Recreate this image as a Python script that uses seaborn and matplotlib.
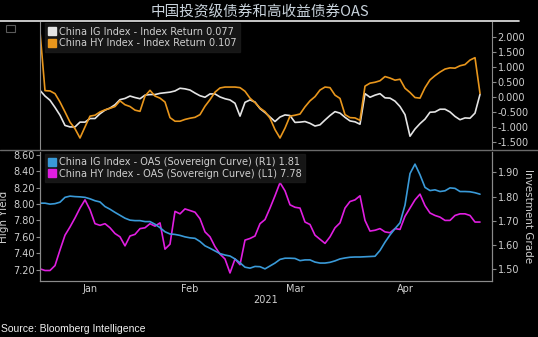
import numpy as np
import pandas as pd
import matplotlib
matplotlib.use("Agg")
import matplotlib.pyplot as plt
import seaborn as sns
from matplotlib.ticker import FormatStrFormatter, FixedLocator
from matplotlib.lines import Line2D
from matplotlib.patches import Rectangle

# ---------------- data ----------------
title = "中国投资级债券和高收益债券OAS"
source = "Source: Bloomberg Intelligence"
months = ["Jan", "Feb", "Mar", "Apr"]
trading_days_per_month = [20, 20, 22, 22]
year_label = "2021"

ig_return = [0.21, 0.02, -0.12, -0.36, -0.62, -0.96, -1.01, -1.01, -0.85, -0.85,
             -0.73, -0.73, -0.57, -0.45, -0.38, -0.27, -0.10, -0.06, 0.02, -0.03,
             -0.07, 0.05, 0.07, 0.07, 0.11, 0.13, 0.15, 0.19, 0.28, 0.26,
             0.22, 0.12, 0.03, -0.02, 0.09, 0.09, -0.01, -0.07, -0.11, -0.22,
             -0.65, -0.19, -0.11, -0.18, -0.40, -0.53, -0.68, -0.83, -0.68, -0.61,
             -0.63, -0.86, -0.85, -0.83, -0.89, -0.98, -0.94, -0.78, -0.63, -0.50,
             -0.55, -0.69, -0.81, -0.84, -0.92, 0.10, -0.02, 0.05, 0.10, -0.04,
             -0.05, -0.15, -0.33, -0.60, -1.32, -1.08, -0.90, -0.75, -0.52, -0.51,
             -0.42, -0.42, -0.51, -0.66, -0.77, -0.71, -0.72, -0.55, 0.077]

hy_return = [2.17, 0.20, 0.19, 0.10, -0.18, -0.51, -0.85, -1.07, -1.38, -1.01,
             -0.65, -0.62, -0.51, -0.44, -0.39, -0.33, -0.14, -0.27, -0.33, -0.45,
             -0.49, 0.02, 0.21, 0.02, -0.05, -0.18, -0.70, -0.82, -0.82, -0.76,
             -0.72, -0.69, -0.60, -0.32, -0.10, 0.15, 0.29, 0.32, 0.32, 0.32,
             0.30, 0.18, -0.05, -0.20, -0.38, -0.50, -0.72, -1.10, -1.38, -1.05,
             -0.65, -0.62, -0.58, -0.34, -0.14, 0.00, 0.22, 0.32, 0.30, 0.05,
             -0.06, -0.60, -0.70, -0.71, -0.79, 0.35, 0.45, 0.48, 0.53, 0.67,
             0.62, 0.55, 0.58, 0.28, 0.14, -0.03, -0.05, 0.30, 0.56, 0.70,
             0.82, 0.92, 0.96, 0.95, 1.03, 1.07, 1.22, 1.30, 0.107]

ig_oas = [1.773, 1.773, 1.769, 1.771, 1.777, 1.797, 1.802, 1.800, 1.799, 1.797,
          1.791, 1.783, 1.778, 1.759, 1.748, 1.735, 1.723, 1.711, 1.703, 1.701,
          1.701, 1.697, 1.697, 1.686, 1.672, 1.655, 1.646, 1.644, 1.640, 1.634,
          1.630, 1.628, 1.615, 1.597, 1.587, 1.576, 1.565, 1.559, 1.555, 1.543,
          1.527, 1.509, 1.505, 1.512, 1.511, 1.502, 1.514, 1.526, 1.541, 1.546,
          1.546, 1.545, 1.536, 1.539, 1.539, 1.530, 1.526, 1.526, 1.529, 1.535,
          1.543, 1.547, 1.550, 1.551, 1.551, 1.552, 1.553, 1.554, 1.578, 1.612,
          1.642, 1.668, 1.692, 1.765, 1.895, 1.934, 1.890, 1.838, 1.825, 1.828,
          1.821, 1.824, 1.836, 1.834, 1.821, 1.821, 1.820, 1.816, 1.81]

hy_oas = [7.21, 7.19, 7.19, 7.25, 7.44, 7.62, 7.72, 7.83, 7.95, 8.05,
          7.93, 7.76, 7.74, 7.76, 7.71, 7.64, 7.60, 7.49, 7.61, 7.63,
          7.70, 7.71, 7.76, 7.73, 7.77, 7.45, 7.51, 7.91, 7.88, 7.94,
          7.92, 7.90, 7.82, 7.66, 7.60, 7.48, 7.39, 7.33, 7.16, 7.33,
          7.26, 7.56, 7.58, 7.61, 7.76, 7.81, 7.95, 8.10, 8.26, 8.16,
          7.99, 7.96, 7.95, 7.78, 7.75, 7.62, 7.57, 7.52, 7.60, 7.71,
          7.77, 7.95, 8.03, 8.05, 8.10, 7.80, 7.67, 7.68, 7.70, 7.66,
          7.65, 7.70, 7.69, 7.85, 7.95, 8.05, 8.12, 7.98, 7.89, 7.86,
          7.84, 7.80, 7.80, 7.86, 7.88, 7.88, 7.86, 7.78, 7.78]

top_ticks = [-1.5, -1.0, -0.5, 0.0, 0.5, 1.0, 1.5, 2.0]
left_ticks = [7.2, 7.4, 7.6, 7.8, 8.0, 8.2, 8.4, 8.6]
right_ticks = [1.5, 1.6, 1.7, 1.8, 1.9]

lbl_ig_ret = "China IG Index - Index Return 0.077"
lbl_hy_ret = "China HY Index - Index Return 0.107"
lbl_ig_oas = "China IG Index - OAS (Sovereign Curve) (R1) 1.81"
lbl_hy_oas = "China HY Index - OAS (Sovereign Curve) (L1) 7.78"

df = pd.DataFrame({"day": np.arange(len(ig_return)),
                   "ig_ret": ig_return, "hy_ret": hy_return,
                   "ig_oas": ig_oas, "hy_oas": hy_oas})

# ---------------- style ----------------
sns.set_theme(style="dark")
plt.rcParams["font.family"] = ["DejaVu Sans"]
plt.rcParams["axes.unicode_minus"] = False

C_WHITE = "#e4e4e4"
C_ORANGE = "#e8961c"
C_BLUE = "#3a9ad8"
C_MAG = "#e01ee0"
C_TXT = "#cfcfcf"
C_SPINE = "#8a8a8a"
FS = 7

W, H = 538, 337
fig = plt.figure(figsize=(W / 100, H / 100), dpi=100, facecolor="black")

def fx(px):
    return px / W

def fy(py):
    return 1 - py / H

ax_t = fig.add_axes([fx(40), fy(150), fx(452), 128 / H])
ax_b = fig.add_axes([fx(40), fy(281), fx(452), 129 / H])
ax_r = ax_b.twinx()

for a in (ax_t, ax_b, ax_r):
    a.set_facecolor("black")
    for s in a.spines.values():
        s.set_color(C_SPINE)
        s.set_linewidth(0.8)
ax_r.patch.set_alpha(0)

xmax = 90.4
bounds = np.concatenate([[0], np.cumsum(trading_days_per_month)])
mids = (bounds[:-1] + bounds[1:]) / 2

# ---------------- top panel ----------------
sns.lineplot(data=df, x="day", y="ig_ret", ax=ax_t, color=C_WHITE, lw=1.2)
sns.lineplot(data=df, x="day", y="hy_ret", ax=ax_t, color=C_ORANGE, lw=1.2)
ax_t.set_xlim(0, xmax)
ax_t.set_ylim(-1.78, 2.49)
ax_t.set_xlabel("")
ax_t.set_ylabel("")
ax_t.set_xticks([])
ax_t.yaxis.tick_right()
ax_t.yaxis.set_major_locator(FixedLocator(top_ticks))
ax_t.yaxis.set_major_formatter(FormatStrFormatter("%.3f"))
ax_t.tick_params(axis="y", colors=C_SPINE, labelcolor=C_TXT, labelsize=FS,
                 length=3, width=0.8, pad=1, right=True, left=False)
ax_t.spines["top"].set_visible(False)
ax_t.spines["bottom"].set_visible(False)

h_t = [Line2D([], [], marker="s", ls="", color=C_WHITE, markersize=6),
       Line2D([], [], marker="s", ls="", color=C_ORANGE, markersize=6)]
leg_t = ax_t.legend(h_t, [lbl_ig_ret, lbl_hy_ret], loc="upper left",
                    bbox_to_anchor=(0.012, 0.99), borderaxespad=0,
                    fontsize=FS, frameon=True, handlelength=0.7,
                    handletextpad=0.3, labelspacing=0.15, borderpad=0.35,
                    fancybox=False)
leg_t.get_frame().set_facecolor("#1c1c1c")
leg_t.get_frame().set_edgecolor("#1c1c1c")
for t in leg_t.get_texts():
    t.set_color(C_TXT)

# ---------------- bottom panel ----------------
sns.lineplot(data=df, x="day", y="ig_oas", ax=ax_r, color=C_BLUE, lw=1.2)
sns.lineplot(data=df, x="day", y="hy_oas", ax=ax_b, color=C_MAG, lw=1.2)
ax_b.set_xlim(0, xmax)
ax_r.set_xlim(0, xmax)
ax_b.set_ylim(7.062, 8.633)
ax_r.set_ylim(1.452, 1.984)
ax_b.yaxis.set_major_locator(FixedLocator(left_ticks))
ax_b.yaxis.set_major_formatter(FormatStrFormatter("%.2f"))
ax_r.yaxis.set_major_locator(FixedLocator(right_ticks))
ax_r.yaxis.set_major_formatter(FormatStrFormatter("%.2f"))
ax_b.tick_params(axis="y", colors=C_SPINE, labelcolor=C_TXT, labelsize=FS,
                 length=3, width=0.8, pad=1, left=True)
ax_r.tick_params(axis="y", colors=C_SPINE, labelcolor=C_TXT, labelsize=FS,
                 length=3, width=0.8, pad=1, right=True)
ax_b.set_ylabel("High Yield", color=C_TXT, fontsize=7.5, labelpad=3)
ax_r.set_ylabel("Investment Grade", color=C_TXT, fontsize=7.5, rotation=-90,
                labelpad=10)
ax_r.set_xlabel("")
ax_b.set_xlabel(year_label, color=C_TXT, fontsize=FS, labelpad=1)

ax_b.xaxis.set_major_locator(FixedLocator(bounds))
ax_b.xaxis.set_minor_locator(FixedLocator(mids))
ax_b.set_xticklabels([""] * len(bounds))
ax_b.set_xticklabels(months, minor=True)
ax_b.tick_params(axis="x", which="major", colors=C_SPINE, length=3, width=0.8,
                 bottom=True)
ax_b.tick_params(axis="x", which="minor", length=0, labelcolor=C_TXT,
                 labelsize=FS, pad=2)
ax_r.set_xticks([])
ax_b.spines["top"].set_visible(False)
ax_r.spines["top"].set_visible(False)

h_b = [Line2D([], [], marker="s", ls="", color=C_BLUE, markersize=6),
       Line2D([], [], marker="s", ls="", color=C_MAG, markersize=6)]
leg_b = ax_r.legend(h_b, [lbl_ig_oas, lbl_hy_oas], loc="upper left",
                    bbox_to_anchor=(0.012, 0.985), borderaxespad=0,
                    fontsize=FS, frameon=True, handlelength=0.7,
                    handletextpad=0.3, labelspacing=0.15, borderpad=0.35,
                    fancybox=False)
leg_b.get_frame().set_facecolor("#1c1c1c")
leg_b.get_frame().set_edgecolor("#1c1c1c")
for t in leg_b.get_texts():
    t.set_color(C_TXT)

# ---------------- figure decorations ----------------
fig.text(fx(260), fy(12), title, ha="center", va="center", fontsize=10.5,
         color="#c9d3dc", family=["Noto Sans CJK SC", "DejaVu Sans"])
fig.add_artist(Line2D([0, fx(519)], [fy(21), fy(21)], color="#e8e8e8", lw=1.2))
fig.add_artist(Line2D([0, 1], [fy(150.5), fy(150.5)], color="#6a6a6a", lw=1.0))
fig.add_artist(Rectangle((fx(6), fy(32)), fx(9), 7 / H, fill=False,
                         edgecolor="#5a5a5a", lw=0.8))
fig.text(fx(1), fy(329), source, ha="left", va="center", fontsize=7.5,
         color="#f0f0f0", family=["Liberation Sans", "DejaVu Sans"])

fig.savefig("out.png", dpi=100, facecolor="black")
